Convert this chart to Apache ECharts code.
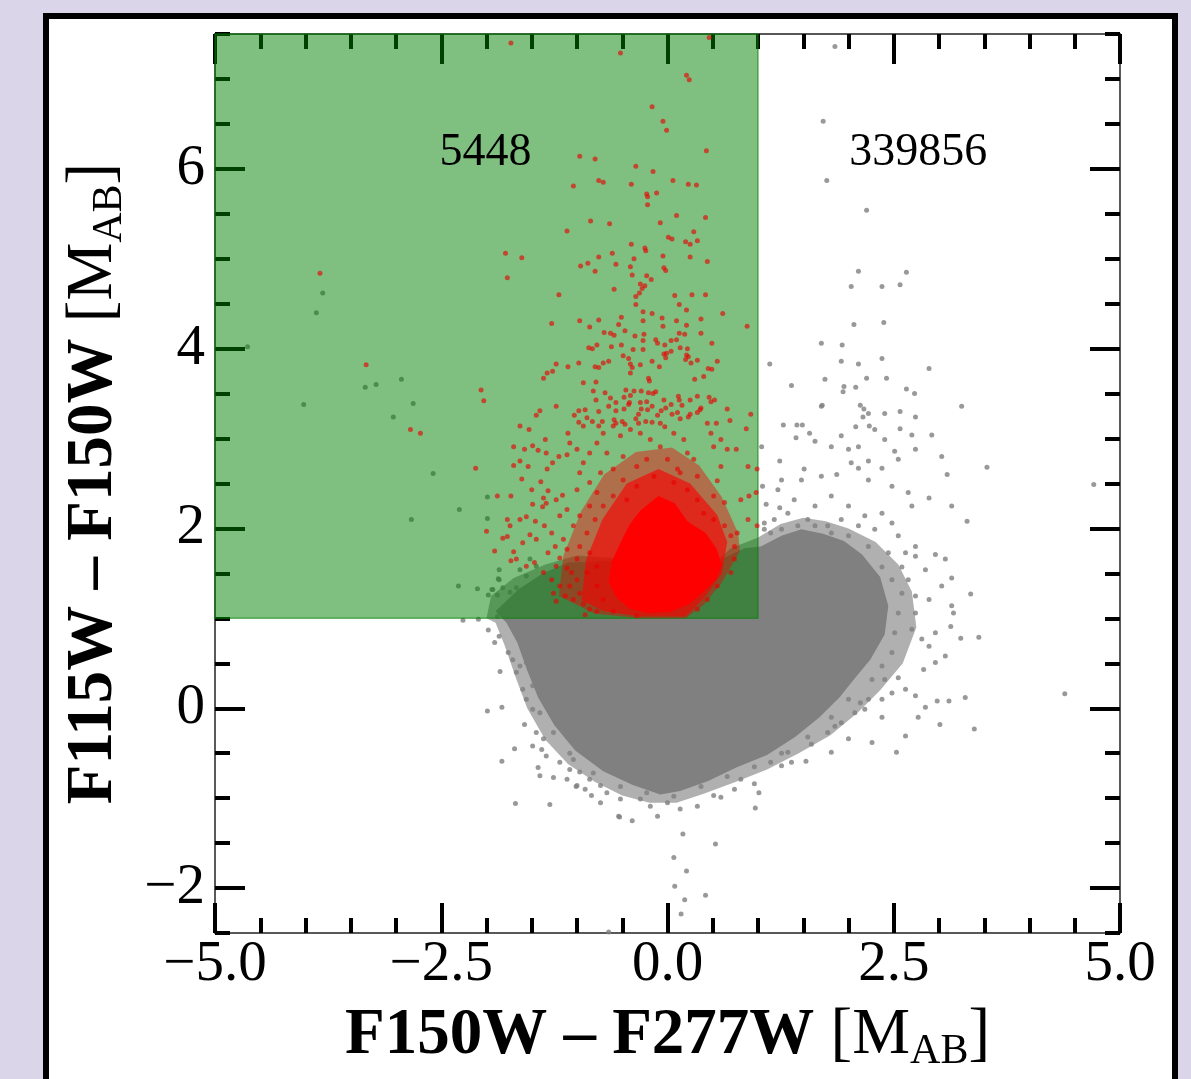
<!DOCTYPE html>
<html>
<head>
<meta charset="utf-8">
<script src="https://cdn.jsdelivr.net/npm/echarts@6/dist/echarts.min.js"></script>
<style>
  html, body { margin: 0; padding: 0; overflow: hidden; background: #dbd5ea; }
  #panel { position: absolute; left: 43px; top: 13px; width: 1123px; height: 1100px; border: 6px solid #000; background: #fff; }
  #chart { position: absolute; left: 0; top: 0; width: 1191px; height: 1079px; }
</style>
</head>
<body>
<div id="panel"></div>
<div id="chart"></div>
<script>
// ---- data ----
const xRange = [-5, 5];
const yRange = [-2.5, 7.5];
const yMajorTicks = [-2, 0, 2, 4, 6];

// selection box: xmin, ymin, xmax, ymax
const greenBox = [-5, 1, 1, 7.5];

const countValues = ['5448', '339856'];
const countAnchors = [[-2.01, 6.18], [2.77, 6.18]];

// outline of the solid grey cloud (too dense to show single dots)
const greyDense = [
  [-1.9, 1.08], [-1.65, 1.32], [-1.38, 1.5], [-1.1, 1.62], [-0.6, 1.64], [-0.3, 1.54], [0.3, 1.49],
  [0.5, 1.52], [0.64, 1.68], [0.85, 1.78], [1.03, 1.8], [1.26, 1.92], [1.48, 1.99], [1.72, 1.94],
  [1.95, 1.86], [2.15, 1.71], [2.35, 1.46], [2.44, 1.14], [2.4, 0.82], [2.24, 0.54], [2.05, 0.31],
  [1.9, 0.12], [1.68, -0.1], [1.41, -0.32], [1.1, -0.52], [0.76, -0.66], [0.45, -0.81],
  [0.14, -0.92], [-0.08, -0.96], [-0.39, -0.85], [-0.71, -0.7], [-1.02, -0.47], [-1.25, -0.19],
  [-1.43, 0.12], [-1.55, 0.42], [-1.66, 0.73], [-1.78, 0.95]
];
// looser speckled band round it
const greyFringe = [
  [-2.0, 1.0], [-1.95, 1.25], [-1.7, 1.45], [-1.35, 1.6], [-1.0, 1.7], [0.5, 1.6], [0.7, 1.78],
  [1.0, 1.9], [1.25, 2.05], [1.5, 2.12], [1.75, 2.08], [2.0, 2.0], [2.3, 1.85], [2.55, 1.6],
  [2.7, 1.3], [2.75, 0.9], [2.6, 0.5], [2.35, 0.2], [2.1, -0.05], [1.8, -0.3], [1.45, -0.5],
  [1.1, -0.68], [0.75, -0.82], [0.4, -0.95], [0.1, -1.05], [-0.2, -1.05], [-0.5, -0.97],
  [-0.8, -0.82], [-1.1, -0.62], [-1.35, -0.35], [-1.55, 0.0], [-1.68, 0.35], [-1.8, 0.7], [-1.9, 0.95]
];

const greyPoints = [
  [2.11, 4.86], [2.64, 4.85], [2.03, 4.69], [2.37, 4.69], [2.57, 4.71], [2.06, 4.27], [2.39, 4.29],
  [1.70, 4.06], [1.93, 4.04], [1.13, 3.83], [1.92, 3.86], [2.11, 3.83], [2.37, 3.89], [2.89, 3.78],
  [1.74, 3.66], [2.20, 3.67], [2.42, 3.67], [1.37, 3.59], [1.95, 3.58], [2.08, 3.57], [1.94, 3.52],
  [2.64, 3.55], [2.73, 3.50], [1.71, 3.37], [2.13, 3.37], [2.17, 3.33], [2.22, 3.28], [2.16, 3.24],
  [2.40, 3.28], [2.57, 3.30], [2.74, 3.24], [3.25, 3.36], [1.28, 3.15], [1.43, 3.15], [1.49, 3.15],
  [2.08, 3.13], [2.23, 3.14], [2.57, 3.11],
  [1.85, 7.36], [1.72, 6.53], [1.76, 5.87], [2.20, 5.54],
  [3.53, 2.68], [4.71, 2.49], [4.39, 0.16],
  [-3.81, 4.62], [-3.88, 4.40], [-4.64, 4.02], [-3.34, 3.57], [-3.22, 3.60], [-2.94, 3.66],
  [-4.02, 3.38], [-2.81, 3.39], [-3.03, 3.24], [-2.59, 2.61], [-1.99, 2.35], [-2.30, 2.21],
  [-2.83, 2.10], [-1.99, 2.11], [-1.86, 1.54], [-1.87, 1.44], [-2.31, 1.36], [-2.10, 1.33],
  [-1.94, 1.32], [-1.98, 1.26], [-1.88, 1.26], [-1.82, 1.34], [-1.88, 1.02],
  [-1.93, 1.32], [-1.86, 1.43], [-1.74, 1.29], [-1.67, 1.34], [-1.60, 1.19], [-1.49, 1.25],
  [-1.63, 1.54], [-1.56, 1.47], [-1.71, 1.14], [-1.80, 1.08], [-1.52, 1.66], [-1.45, 1.58],
  [-2.26, 0.98], [-2.09, 0.99], [-1.98, 0.87], [-1.91, 0.73], [-1.86, 0.80], [-1.76, 0.62],
  [-1.71, 0.54], [-1.63, 0.47], [-1.67, 0.40], [-1.85, 0.41], [-1.60, 0.21], [-1.56, 0.10],
  [-1.49, -0.01], [-1.58, -0.18], [-1.99, -0.03], [-1.83, 0.01], [-1.69, -0.45], [-1.83, -0.59],
  [-1.45, -0.27], [-1.37, -0.34], [-1.49, -0.42], [-1.39, -0.46], [-1.34, -0.53], [-1.43, -0.66],
  [-1.41, -0.75], [-1.26, -0.77], [-1.11, -0.79], [-1.68, -1.06], [-1.30, -1.07], [-1.19, -0.60],
  [-1.08, -0.68], [-0.97, -0.71], [-1.04, -0.57], [-0.86, -0.79], [-0.74, -0.86], [-1.00, -0.86],
  [-0.84, -0.97], [-0.67, -0.94], [-0.52, -1.01], [-0.54, -1.20], [-0.39, -1.25], [-0.11, -1.20],
  [-0.30, -1.01], [-0.19, -1.09], [0.00, -1.05], [0.14, -1.12], [0.33, -1.09], [0.51, -0.97],
  [0.59, -0.99], [0.97, -1.11], [1.01, -0.94], [0.96, -0.84], [0.81, -0.79], [0.74, -0.90],
  [1.14, -0.60], [1.26, -0.64], [1.37, -0.60], [1.53, -0.59], [1.33, -0.49], [1.59, -0.40],
  [1.81, -0.49], [2.00, -0.34], [1.85, -0.20], [1.92, -0.16], [2.07, -0.05], [1.77, -0.27],
  [2.26, -0.38], [2.53, -0.49], [2.63, -0.31], [2.37, -0.10], [2.18, -0.01], [2.13, 0.06],
  [2.22, 0.10], [2.37, 0.10], [2.48, 0.17], [2.63, 0.21], [2.77, -0.10], [2.85, 0.01], [2.74, 0.14],
  [2.55, 0.34], [2.40, 0.32], [2.98, 0.08], [3.11, 0.08], [3.29, 0.12], [3.01, -0.18], [3.39, -0.23],
  [2.83, 0.43], [2.96, 0.51], [3.07, 0.58], [2.89, 0.69], [2.81, 0.77], [2.96, 0.84], [2.70, 0.88],
  [2.74, 1.06], [2.89, 1.21], [3.03, 1.36], [2.85, 1.54], [2.74, 1.69], [3.14, 1.14], [3.16, 1.06],
  [3.24, 0.78], [3.44, 0.79], [3.35, 1.27], [3.14, 1.45], [3.07, 1.66], [2.96, 1.71], [3.31, 2.08],
  [3.14, 2.25], [3.13, 0.91],
  [2.55, 1.92], [2.74, 1.80], [2.48, 2.06], [2.37, 2.17], [2.70, 2.25], [2.89, 2.34], [2.66, 2.40],
  [2.48, 2.47], [2.22, 2.54], [2.11, 2.67], [2.37, 2.67], [2.55, 2.77], [2.74, 2.88], [2.40, 2.99],
  [2.11, 2.91], [2.00, 2.88], [1.92, 3.03], [1.81, 2.91], [1.70, 2.58], [1.48, 2.54], [1.26, 2.54],
  [1.22, 2.43], [1.40, 2.32], [1.63, 2.25], [1.81, 2.36], [2.00, 2.25], [2.18, 2.14], [2.29, 1.99],
  [2.11, 2.03], [1.92, 2.10], [1.77, 2.03], [1.55, 2.10], [1.33, 2.17], [1.18, 2.10], [1.07, 2.06],
  [1.14, 1.95],
  [2.29, 3.10], [2.70, 3.04], [2.92, 3.04], [3.03, 2.80], [3.09, 2.60], [2.51, 2.86], [2.22, 2.75],
  [1.63, 2.97], [1.57, 3.06], [1.42, 3.01], [1.24, 2.75], [1.51, 2.66], [1.87, 2.60], [2.03, 2.73],
  [1.09, 2.27], [1.05, 2.47], [1.24, 2.23], [1.70, 3.36], [1.04, 2.91], [1.07, 1.99], [1.14, 1.80],
  [2.37, 1.57], [2.48, 1.43], [2.59, 1.28], [2.55, 1.06], [2.51, 0.84], [2.48, 0.62], [2.37, 0.47],
  [2.26, 0.32], [2.59, 1.57], [2.66, 1.43], [2.74, 1.25], [2.44, 1.73], [2.63, 1.73], [2.22, 1.80],
  [2.00, 1.92], [1.81, 1.95], [1.63, 2.03], [1.44, 2.03], [1.26, 1.99],
  [2.00, 0.10], [1.81, -0.10], [1.55, -0.32], [1.26, -0.50], [0.96, -0.65], [0.66, -0.76],
  [0.37, -0.87], [0.07, -0.98], [-0.23, -0.94], [-0.52, -0.87], [-0.82, -0.72], [-1.08, -0.50],
  [-1.26, -0.27], [-1.41, -0.05], [-1.49, 0.25], [-1.56, 0.51], [-1.63, 0.77], [-1.71, 0.92],
  [-0.53, -1.21], [0.17, -1.40], [0.53, -1.51], [0.07, -1.66], [0.21, -1.81], [0.08, -1.98],
  [0.42, -2.08], [0.19, -2.13], [0.15, -2.29], [-0.65, -2.49], [-0.74, -1.05], [-0.91, -0.90],
  [-1.01, -0.87]
];

// solid red core and the speckled halo round it
const redCore = [
  [-0.3, 2.2], [-0.1, 2.36], [0.08, 2.28], [0.22, 2.08], [0.42, 1.95], [0.54, 1.78], [0.6, 1.6],
  [0.54, 1.44], [0.4, 1.3], [0.24, 1.16], [0.03, 1.07], [-0.22, 1.06], [-0.42, 1.11], [-0.56, 1.23],
  [-0.65, 1.4], [-0.62, 1.62], [-0.52, 1.84], [-0.42, 2.04]
];
const redHaloInner = [
  [-0.95, 1.2], [-0.9, 1.65], [-0.72, 2.1], [-0.45, 2.5], [-0.1, 2.66], [0.25, 2.5], [0.55, 2.15],
  [0.66, 1.85], [0.6, 1.5], [0.4, 1.22], [0.2, 1.02], [-0.3, 1.02], [-0.7, 1.08]
];
const redHaloOuter = [
  [-1.2, 1.25], [-1.15, 1.7], [-0.95, 2.2], [-0.7, 2.6], [-0.35, 2.85], [0.05, 2.9], [0.35, 2.7],
  [0.6, 2.35], [0.78, 1.95], [0.8, 1.75], [0.6, 1.4], [0.4, 1.15], [0.2, 1.0], [-0.3, 1.0], [-0.8, 1.05]
];

const redPoints = [
  [-1.73, 7.40], [-0.52, 7.29], [0.46, 7.46], [0.21, 7.04], [0.24, 6.99], [-0.17, 6.69], [-0.05, 6.53],
  [-0.01, 6.43], [0.43, 6.20], [-0.97, 6.14], [-0.80, 6.11], [-0.35, 6.03], [-0.16, 5.97], [-1.04, 5.81],
  [-0.76, 5.87], [-0.71, 5.85], [-0.40, 5.83], [0.06, 5.87], [0.23, 5.83], [0.32, 5.82], [-0.23, 5.72],
  [-0.22, 5.69], [-0.12, 5.73], [-0.22, 5.60], [0.10, 5.48], [0.42, 5.46], [-0.85, 5.42], [-0.64, 5.39],
  [-0.08, 5.40], [-1.11, 5.31], [0.29, 5.30], [0.01, 5.24], [0.05, 5.22], [0.20, 5.19], [0.25, 5.16],
  [0.33, 5.20], [-0.40, 5.16], [-1.79, 5.06], [-1.61, 5.01], [-1.77, 4.79], [-0.25, 5.12], [-0.24, 5.09],
  [-0.05, 5.03], [0.25, 5.02], [0.44, 4.97], [-0.96, 4.92], [-0.88, 4.95], [-0.76, 5.02], [-0.61, 5.06],
  [-0.57, 4.94], [-0.37, 5.00], [-0.80, 4.86], [-0.41, 4.91], [-0.39, 4.82], [-0.04, 4.90], [-0.02, 4.87],
  [-0.23, 4.81], [-0.18, 4.77], [-0.30, 4.72], [-0.25, 4.70], [-0.28, 4.67], [-0.31, 4.62], [-0.35, 4.58],
  [-1.20, 4.60], [-0.59, 4.66], [0.08, 4.59], [0.27, 4.60], [0.42, 4.60], [-0.35, 4.49], [0.13, 4.49],
  [0.21, 4.43], [-0.27, 4.41], [-0.27, 4.31], [-0.17, 4.39], [-0.06, 4.34], [0.10, 4.31], [0.21, 4.26],
  [0.37, 4.33], [0.61, 4.39], [0.88, 4.25], [-1.28, 4.28], [-0.97, 4.31], [-0.86, 4.24], [-0.76, 4.32],
  [-0.51, 4.35], [-0.54, 4.27], [-0.47, 4.20], [-0.70, 4.18], [-0.63, 4.17], [-0.59, 4.15], [-0.36, 4.14],
  [-0.26, 4.16], [-0.05, 4.25], [0.13, 4.17], [0.19, 4.16], [0.37, 4.17], [-0.87, 4.01], [-0.83, 4.00],
  [-0.78, 4.04], [-0.62, 4.02], [-0.51, 4.04], [-0.38, 3.99], [-0.27, 3.99], [-0.27, 4.09], [-0.13, 4.10],
  [-0.11, 4.06], [-0.03, 4.04], [-0.01, 3.95], [0.04, 4.09], [0.10, 4.10], [0.14, 4.01], [0.22, 4.00],
  [0.23, 3.91], [0.49, 4.06], [-1.23, 3.83], [-1.27, 3.75], [-1.37, 3.67], [-1.33, 3.73], [-1.10, 3.80],
  [-0.98, 3.84], [-0.80, 3.80], [-0.76, 3.79], [-0.71, 3.84], [-0.65, 3.86], [-0.49, 3.92], [-0.43, 3.89],
  [-0.41, 3.83], [-0.39, 3.79], [-0.41, 3.73], [-0.30, 3.82], [-0.21, 3.67], [-0.20, 3.64], [-0.17, 3.86],
  [-0.09, 3.80], [-0.04, 3.94], [-0.02, 3.90], [0.04, 3.97], [0.21, 3.93], [0.20, 3.88], [0.26, 3.84],
  [0.30, 3.66], [0.33, 3.87], [0.40, 3.69], [0.45, 3.78], [0.55, 3.86], [0.49, 3.77], [-0.93, 3.62],
  [-0.79, 3.63],
  [-3.84, 4.84], [-3.33, 3.82], [-2.06, 3.54], [-2.03, 3.42], [-2.84, 3.10], [-2.73, 3.06], [-1.70, 2.91],
  [-1.70, 2.70], [-2.12, 2.67], [-1.88, 2.36], [-1.73, 2.36], [-1.77, 2.10], [-1.74, 2.03], [-2.00, 1.97],
  [-1.82, 1.89], [-1.77, 1.91], [-1.91, 1.75], [-1.70, 1.74], [-1.73, 1.64],
  [-1.23, 3.36], [-1.41, 3.31], [-1.45, 3.26], [-1.63, 3.14], [-1.03, 3.26], [-0.98, 3.31], [-0.91, 3.32],
  [-0.82, 3.53], [-0.79, 3.43], [-0.69, 3.51], [-0.76, 3.30], [-0.89, 3.23], [-0.63, 3.45], [-0.65, 3.36],
  [-0.57, 3.40], [-0.57, 3.31], [-0.46, 3.54], [-0.41, 3.48], [-0.37, 3.53], [-0.29, 3.53], [-0.48, 3.46],
  [-0.43, 3.38], [-0.42, 3.40], [-0.48, 3.33], [-0.30, 3.40], [-0.29, 3.33], [-0.32, 3.27], [-0.21, 3.51],
  [-0.16, 3.50], [-0.13, 3.52], [-0.23, 3.41], [-0.17, 3.36], [-0.22, 3.32], [-0.04, 3.43], [-0.02, 3.34],
  [0.04, 3.38], [-0.11, 3.26], [-0.07, 3.31], [0.05, 3.27], [0.12, 3.47], [0.13, 3.43], [0.16, 3.37],
  [0.25, 3.43], [0.33, 3.47], [0.36, 3.32], [0.46, 3.46], [0.48, 3.41], [0.52, 3.43], [0.66, 3.33],
  [0.69, 3.20], [0.92, 3.27], [0.87, 3.11], [0.25, 3.27], [0.23, 3.24], [0.33, 3.29], [0.37, 3.34],
  [0.11, 3.29], [0.14, 3.22], [0.44, 3.17], [0.54, 3.17], [-0.59, 3.21], [-0.57, 3.17], [-0.50, 3.19],
  [-0.47, 3.16], [-0.35, 3.22], [-0.32, 3.17], [-0.24, 3.19], [-0.17, 3.18], [-0.83, 3.19], [-0.76, 3.14],
  [-0.72, 3.19], [-0.98, 3.18], [-0.93, 3.14], [-0.08, 3.17], [-0.03, 3.13],
  [-1.53, 3.10], [-1.58, 2.88], [-1.49, 2.92], [-1.43, 2.87], [-1.34, 2.84], [-1.35, 2.99], [-1.63, 2.75],
  [-1.54, 2.69], [-1.61, 2.55], [-1.50, 2.43], [-1.40, 2.52], [-1.32, 2.42], [-1.33, 2.66], [-1.27, 2.73],
  [-1.20, 2.80], [-1.11, 2.82], [-1.08, 2.95], [-1.00, 2.88], [-1.10, 3.06], [-1.63, 2.10], [-1.56, 2.13],
  [-1.46, 2.08], [-1.49, 2.27], [-1.38, 2.24], [-1.34, 2.28], [-1.37, 2.34], [-1.23, 2.32], [-1.16, 2.37],
  [-1.11, 2.21], [-1.19, 2.14], [-1.60, 1.84], [-1.52, 1.93], [-1.45, 1.88], [-1.36, 2.03], [-1.28, 1.95],
  [-1.67, 1.66], [-1.56, 1.58], [-1.47, 1.62], [-1.37, 1.51], [-1.32, 1.73], [-1.24, 1.80], [-1.15, 1.88],
  [-1.19, 1.67], [-1.23, 1.58], [-1.11, 1.56], [-1.28, 1.43], [-1.19, 1.36], [-1.26, 1.28], [-1.13, 1.25],
  [-1.23, 1.19], [-1.04, 1.21], [-0.97, 1.28], [-1.08, 1.36], [-1.00, 1.43], [-1.06, 1.51], [-0.93, 1.16],
  [-0.86, 1.10], [-0.91, 1.04], [-0.78, 1.08],
  [0.59, 2.99], [0.51, 2.91], [0.66, 2.88], [0.76, 2.88], [0.59, 2.69], [0.89, 2.69], [0.99, 2.66],
  [0.55, 2.53], [0.81, 2.32], [0.90, 2.36], [0.98, 2.40], [0.89, 2.10], [0.99, 2.03], [0.77, 1.95],
  [0.74, 1.80], [0.63, 2.29], [0.51, 2.36], [0.33, 2.58], [0.29, 2.77], [0.18, 2.99], [0.07, 3.06],
  [0.48, 3.06], [0.22, 2.84], [0.11, 2.66], [0.00, 2.77], [-0.08, 2.91], [-0.19, 2.99], [-0.30, 3.06],
  [-0.41, 3.10], [-0.52, 3.03], [-0.60, 3.14], [-0.71, 3.06], [-0.78, 2.95], [-0.86, 2.84], [-0.93, 2.73],
  [-0.67, 2.84], [-0.49, 2.80], [-0.34, 2.69], [-0.23, 2.77], [-0.15, 2.58], [-0.34, 2.47], [-0.49, 2.54],
  [-0.60, 2.66], [-0.74, 2.62], [-0.86, 2.51], [-0.97, 2.62], [-1.00, 2.43], [-0.78, 2.40], [-0.60, 2.36],
  [-0.45, 2.32], [-0.71, 2.25], [-0.86, 2.25], [-0.97, 2.14], [-0.80, 2.10], [-1.04, 2.03], [-0.89, 1.95],
  [-0.97, 1.80], [-0.86, 1.73], [-0.78, 1.58], [-0.89, 1.51], [-1.00, 1.66], [-1.11, 1.77], [0.14, 2.62],
  [0.07, 2.51], [0.22, 2.43], [0.33, 2.32], [0.40, 2.17], [0.51, 2.10], [0.63, 2.03], [0.70, 1.92],
  [0.74, 1.66], [0.70, 1.51], [0.55, 1.36], [0.44, 1.21], [0.33, 1.10], [-0.60, 1.08], [-0.34, 1.03],
  [-0.71, 1.21], [-0.78, 1.36]
];

// ---- chart ----
const chart = echarts.init(document.getElementById('chart'), null, { renderer: 'canvas' });

const serif = 'Liberation Serif';
const tickColor = '#000';

function spine(show) {
  return { show: show, onZero: false, lineStyle: { color: '#222', width: 1.5 } };
}

function fmtMinus(v, digits) {
  const s = Math.abs(v).toFixed(digits);
  return v < 0 ? '\u2212' + s : s;
}

function polygonSeries(points, style, z) {
  return {
    type: 'custom',
    coordinateSystem: 'cartesian2d',
    silent: true,
    z: z,
    data: [points[0]],
    renderItem: function (params, api) {
      return {
        type: 'polygon',
        shape: { points: points.map(function (p) { return api.coord(p); }) },
        style: style
      };
    }
  };
}

function xAxisDef(position, showLabel) {
  return {
    type: 'value',
    position: position,
    min: xRange[0],
    max: xRange[1],
    interval: 2.5,
    axisLine: spine(true),
    axisTick: { show: true, inside: true, length: 30, lineStyle: { color: tickColor, width: 4 } },
    minorTick: { show: true, splitNumber: 5, length: 15, lineStyle: { color: tickColor, width: 4 } },
    splitLine: { show: false },
    axisLabel: {
      show: showLabel,
      margin: 4,
      fontFamily: serif,
      fontSize: 57,
      color: '#000',
      formatter: function (v) { return fmtMinus(v, 1); }
    }
  };
}

function yMinorAxis(position) {
  return {
    type: 'value',
    position: position,
    min: yRange[0],
    max: yRange[1],
    interval: 0.5,
    axisLine: spine(true),
    axisTick: { show: true, inside: true, length: 15, lineStyle: { color: tickColor, width: 4 } },
    splitLine: { show: false },
    axisLabel: { show: false }
  };
}

function yMajorAxis(position, showLabel) {
  return {
    type: 'value',
    position: position,
    min: yRange[0],
    max: yRange[1],
    axisLine: spine(false),
    axisTick: {
      show: true, inside: true, length: 30, customValues: yMajorTicks,
      lineStyle: { color: tickColor, width: 4 }
    },
    splitLine: { show: false },
    axisLabel: {
      show: showLabel,
      customValues: yMajorTicks,
      margin: 10,
      fontFamily: serif,
      fontSize: 57,
      color: '#000',
      formatter: function (v) { return fmtMinus(v, 0); }
    }
  };
}

const titleRich = {
  b: { fontFamily: serif, fontWeight: 'bold', fontSize: 65, color: '#000', lineHeight: 74 },
  r: { fontFamily: serif, fontWeight: 'normal', fontSize: 65, color: '#000', lineHeight: 74 },
  s: { fontFamily: serif, fontWeight: 'normal', fontSize: 42, color: '#000', lineHeight: 42, padding: [32, 0, 0, 0] }
};

const xBottom = xAxisDef('bottom', true);
xBottom.name = '{b|F150W \u2013 F277W}{r| [M}{s|AB}{r|]}';
xBottom.nameLocation = 'middle';
xBottom.nameGap = 58;
xBottom.nameTextStyle = { rich: titleRich };

const yLeftMajor = yMajorAxis('left', true);
yLeftMajor.name = '{b|F115W \u2013 F150W}{r| [M}{s|AB}{r|]}';
yLeftMajor.nameLocation = 'middle';
yLeftMajor.nameGap = 84;
yLeftMajor.nameRotate = 90;
yLeftMajor.nameTextStyle = { rich: titleRich };

const option = {
  animation: false,
  grid: { left: 215, top: 34, width: 905, height: 899, containLabel: false },
  xAxis: [xBottom, xAxisDef('top', false)],
  yAxis: [yMinorAxis('left'), yLeftMajor, yMinorAxis('right'), yMajorAxis('right', false)],
  series: [
    polygonSeries(greyFringe, { fill: 'rgba(128,128,128,0.62)' }, 2),
    polygonSeries(greyDense, { fill: '#808080' }, 2),
    {
      name: 'all',
      type: 'scatter',
      z: 2,
      silent: true,
      symbolSize: 5,
      itemStyle: { color: '#808080' },
      data: greyPoints
    },
    {
      name: 'box',
      type: 'custom',
      coordinateSystem: 'cartesian2d',
      silent: true,
      z: 3,
      data: [greenBox],
      renderItem: function (params, api) {
        const p0 = api.coord([api.value(0), api.value(3)]);
        const p1 = api.coord([api.value(2), api.value(1)]);
        return {
          type: 'rect',
          shape: { x: p0[0], y: p0[1], width: p1[0] - p0[0], height: p1[1] - p0[1] },
          style: { fill: 'rgba(0,128,0,0.5)', stroke: 'rgba(0,128,0,0.55)', lineWidth: 1.5 }
        };
      }
    },
    polygonSeries(redHaloOuter, { fill: 'rgba(240,0,0,0.42)' }, 4),
    polygonSeries(redHaloInner, { fill: 'rgba(250,0,0,0.62)' }, 4),
    {
      name: 'selected',
      type: 'scatter',
      z: 4,
      silent: true,
      symbolSize: 5,
      itemStyle: { color: 'rgba(232,0,0,0.78)' },
      data: redPoints
    },
    polygonSeries(redCore, { fill: '#ff0000' }, 5),
    {
      name: 'counts',
      type: 'custom',
      coordinateSystem: 'cartesian2d',
      silent: true,
      z: 6,
      data: countAnchors.map(function (p, i) { return [p[0], p[1], i]; }),
      renderItem: function (params, api) {
        const p = api.coord([api.value(0), api.value(1)]);
        return {
          type: 'text',
          x: p[0],
          y: p[1],
          style: {
            text: countValues[api.value(2)],
            fontFamily: serif,
            fontSize: 46,
            fill: '#000',
            align: 'center',
            verticalAlign: 'middle'
          }
        };
      }
    }
  ]
};

chart.setOption(option);
</script>
</body>
</html>
